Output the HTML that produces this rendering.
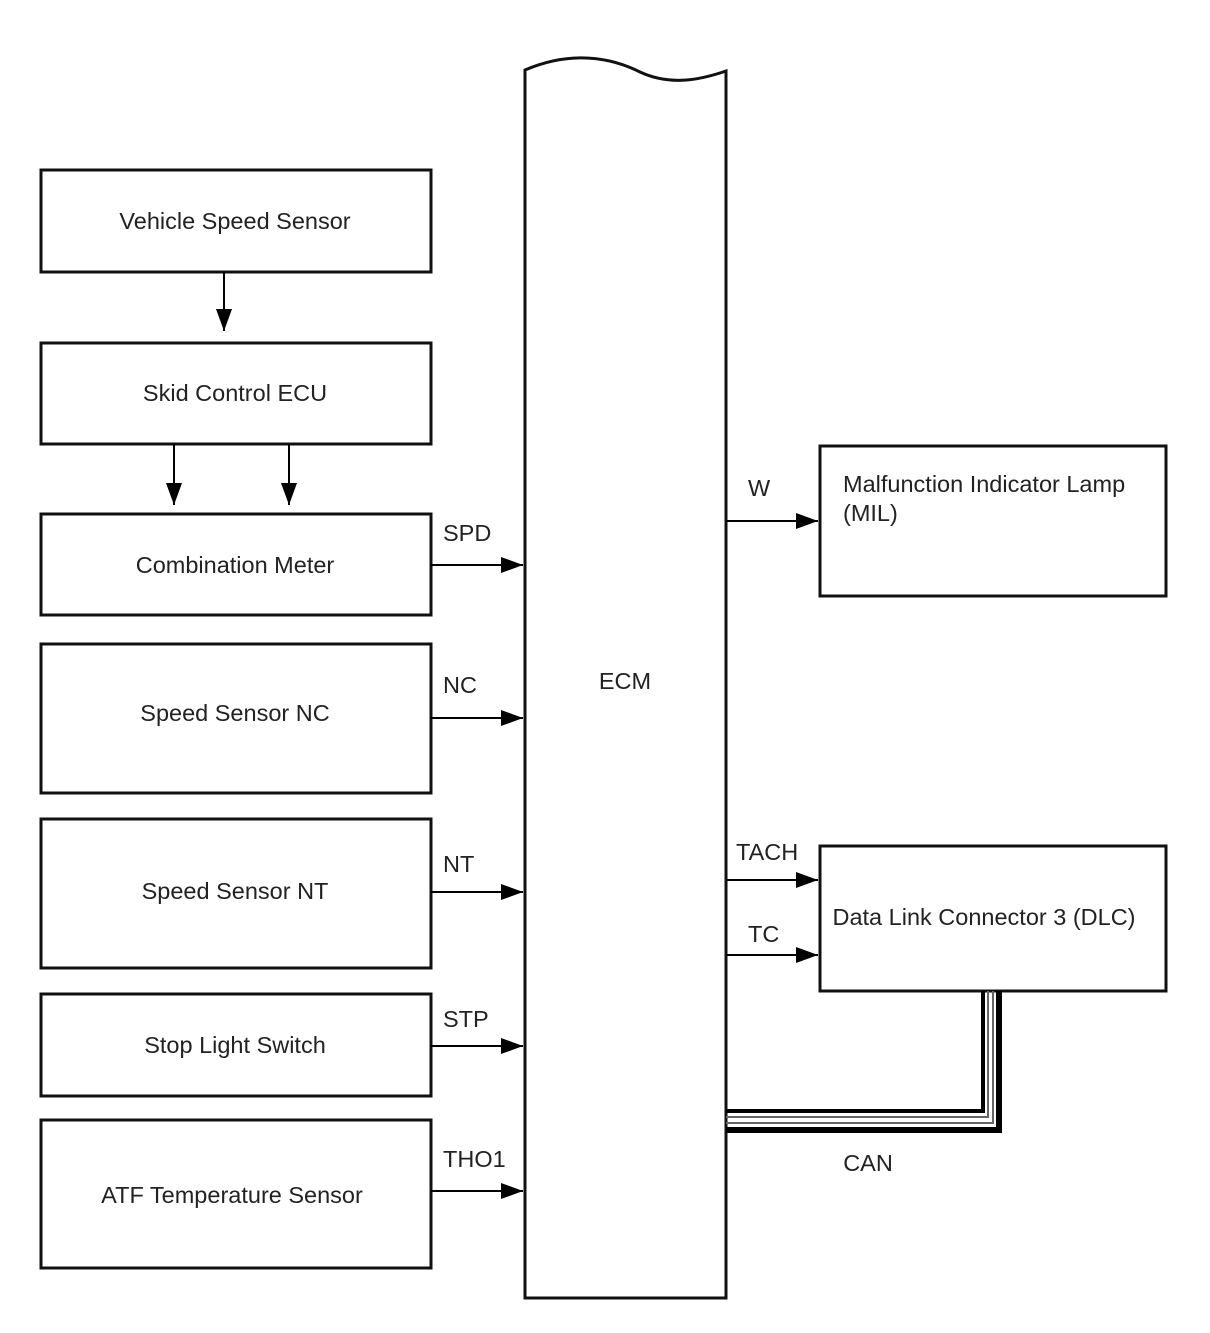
<!DOCTYPE html>
<html><head><meta charset="utf-8"><style>
html,body{margin:0;padding:0;background:#fff}
svg text{font-family:"Liberation Sans",Arial,sans-serif;font-size:23.5px;fill:#222}
</style></head><body>
<svg width="1210" height="1328" viewBox="0 0 1210 1328" xmlns="http://www.w3.org/2000/svg">
<defs><marker id="a" markerWidth="24" markerHeight="16" refX="22" refY="8" orient="auto" markerUnits="userSpaceOnUse"><path d="M0,0 L22,8 L0,16 Z" fill="#000"/></marker></defs>
<g fill="none" stroke="#111" stroke-width="3">
<rect x="41" y="170" width="390" height="102"/>
<rect x="41" y="343" width="390" height="101"/>
<rect x="41" y="514" width="390" height="101"/>
<rect x="41" y="644" width="390" height="149"/>
<rect x="41" y="819" width="390" height="149"/>
<rect x="41" y="994" width="390" height="102"/>
<rect x="41" y="1120" width="390" height="148"/>
<rect x="820" y="446" width="346" height="150"/>
<rect x="820" y="846" width="346" height="145"/>
<path d="M525,1298 L525,70 C560,55 600,52 640,72 C670,86 700,80 726,71 L726,1298 Z"/>
</g>
<g stroke="#000" stroke-width="2" fill="none">
<line x1="224" y1="272" x2="224" y2="331" marker-end="url(#a)"/>
<line x1="174" y1="444" x2="174" y2="505" marker-end="url(#a)"/>
<line x1="289" y1="444" x2="289" y2="505" marker-end="url(#a)"/>
<line x1="431" y1="565" x2="523" y2="565" marker-end="url(#a)"/>
<line x1="431" y1="718" x2="523" y2="718" marker-end="url(#a)"/>
<line x1="431" y1="892" x2="523" y2="892" marker-end="url(#a)"/>
<line x1="431" y1="1046" x2="523" y2="1046" marker-end="url(#a)"/>
<line x1="431" y1="1191" x2="523" y2="1191" marker-end="url(#a)"/>
<line x1="726" y1="521" x2="818" y2="521" marker-end="url(#a)"/>
<line x1="726" y1="880" x2="818" y2="880" marker-end="url(#a)"/>
<line x1="726" y1="955" x2="818" y2="955" marker-end="url(#a)"/>
</g>
<g fill="none">
<path d="M726,1111 L983,1111 L983,991" stroke="#000" stroke-width="4"/>
<path d="M726,1117 L988,1117 L988,991" stroke="#666" stroke-width="2"/>
<path d="M726,1123 L993,1123 L993,991" stroke="#666" stroke-width="2"/>
<path d="M726,1130 L999,1130 L999,991" stroke="#000" stroke-width="6"/>
</g>
<text x="235" y="229" text-anchor="middle">Vehicle Speed Sensor</text>
<text x="235" y="401" text-anchor="middle">Skid Control ECU</text>
<text x="235" y="573" text-anchor="middle">Combination Meter</text>
<text x="235" y="721" text-anchor="middle">Speed Sensor NC</text>
<text x="235" y="899" text-anchor="middle">Speed Sensor NT</text>
<text x="235" y="1053" text-anchor="middle">Stop Light Switch</text>
<text x="232" y="1203" text-anchor="middle">ATF Temperature Sensor</text>
<text x="443" y="541">SPD</text>
<text x="443" y="693">NC</text>
<text x="443" y="872">NT</text>
<text x="443" y="1027">STP</text>
<text x="443" y="1167">THO1</text>
<text x="625" y="689" text-anchor="middle">ECM</text>
<text x="748" y="496">W</text>
<text x="843" y="492">Malfunction Indicator Lamp</text>
<text x="843" y="521">(MIL)</text>
<text x="736" y="860">TACH</text>
<text x="748" y="942">TC</text>
<text x="984" y="925" text-anchor="middle">Data Link Connector 3 (DLC)</text>
<text x="868" y="1171" text-anchor="middle">CAN</text>
</svg>
</body></html>
